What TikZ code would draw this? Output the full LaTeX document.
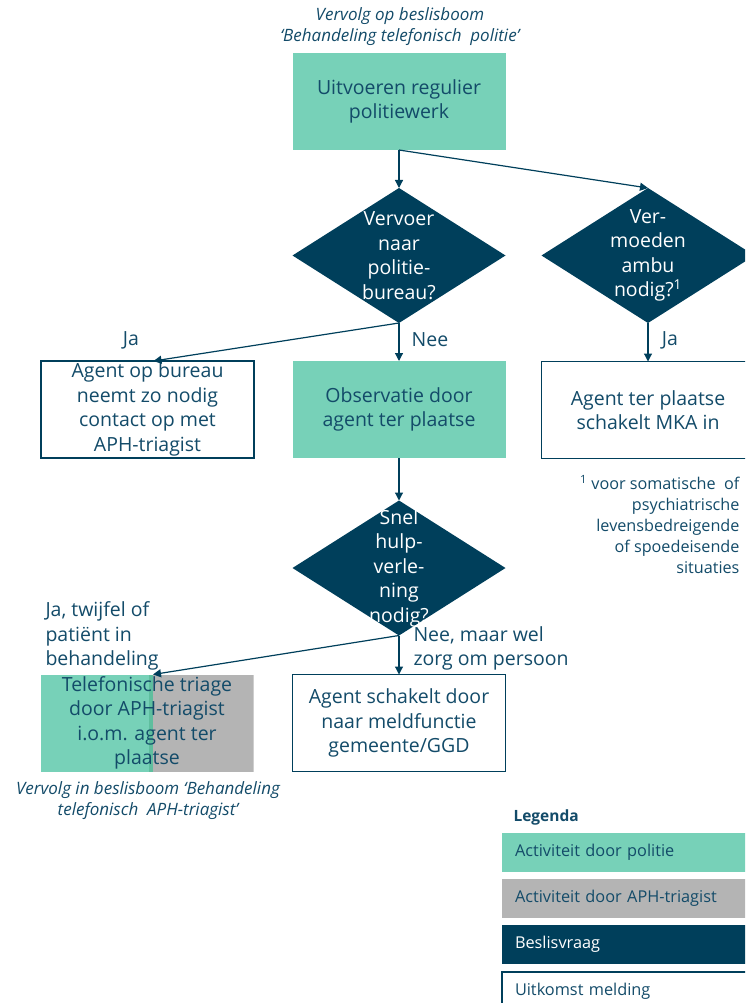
\documentclass[tikz,border=0pt]{standalone}
\usepackage{fontspec}
\setmainfont{Open Sans}
\usetikzlibrary{shapes.geometric,arrows.meta,calc}
\definecolor{tealA}{HTML}{77D1B8}
\definecolor{tealB}{HTML}{5FBE9E}
\definecolor{navy}{HTML}{003F5B}
\definecolor{txt}{HTML}{134B69}
\definecolor{greyA}{HTML}{B4B4B4}
\newcommand{\mainfs}{\fontsize{19.5}{24.5}\selectfont}
\newcommand{\smallfs}{\fontsize{16.2}{21}\selectfont}
\newcommand{\italfs}{\fontsize{17}{21}\selectfont}
\begin{document}
\begin{tikzpicture}[x=1pt,y=-1pt,
  box/.style={rectangle, minimum width=213pt, minimum height=97pt, inner sep=0pt, outer sep=0pt, align=center, text=txt, font=\mainfs},
  police/.style={box, fill=tealA},
  outcome/.style={box, draw=navy, line width=1.2pt, fill=white},
  dia/.style={diamond, fill=navy, minimum width=213pt, minimum height=135pt, inner sep=0pt, outer sep=0pt},
  dtext/.style={text=white, align=center, font=\mainfs},
  conn/.style={draw=navy, line width=1.2pt, -{Triangle[length=8pt,width=8pt]}},
  lbl/.style={text=txt, font=\mainfs},
  legbox/.style={rectangle, anchor=north west, minimum height=39pt, text width=240pt, inner xsep=13pt, inner ysep=0pt, outer sep=0pt, align=left, font=\fontsize{16.3}{18}\selectfont, text=txt}
]
\useasboundingbox (0,0) rectangle (745,1003);
\clip (0,0) rectangle (745,1003);

\node[font=\itshape\italfs, text=txt, align=center] (top) at (400,27) {Vervolg op beslisboom\\‘Behandeling telefonisch\ \ politie’};

\node[police] (b1) at (399,101.5) {Uitvoeren regulier\\politiewerk};
\node[dia] (d1) at (399,255.5) {};
\node[dtext] (d1t) at (d1.center) {Vervoer\\naar\\politie-\\bureau?};
\node[dia] (d2) at (648,255.5) {};
\node[dtext] (d2t) at (d2.center) {Ver-\\moeden\\ambu\\nodig?\textsuperscript{1}};

\node[outcome] (b2) at (147.5,409.5) {Agent op bureau\\neemt zo nodig\\contact op met\\APH-triagist};
\node[police] (b3) at (399,409.5) {Observatie door\\agent ter plaatse};
\node[outcome] (b4) at (648,410) {Agent ter plaatse\\schakelt MKA in};

\node[anchor=east, align=right, font=\smallfs, text=txt] (fn) at (743,524.5) {\textsuperscript{1} voor somatische\ \ of\\psychiatrische\\levensbedreigende\\of spoedeisende\\situaties};

\node[dia] (d3) at (399,568) {};
\node[dtext] (d3t) at (d3.center) {Snel\\hulp-\\verle-\\ning\\nodig?};

\node[box, path picture={
  \fill[greyA] (path picture bounding box.south west) rectangle (path picture bounding box.north east);
  \fill[tealA] (path picture bounding box.south west) rectangle ([xshift=108pt]path picture bounding box.north west);
  \fill[tealB] ([xshift=108pt]path picture bounding box.south west) rectangle ([xshift=112pt]path picture bounding box.north west);
}] (b5) at (147,723) {Telefonische triage\\door APH-triagist\\i.o.m. agent ter\\plaatse};
\node[outcome] (b6) at (399,723) {Agent schakelt door\\naar meldfunctie\\gemeente/GGD};

\node[font=\itshape\italfs, text=txt, align=center] (bot) at (148,801) {Vervolg in beslisboom ‘Behandeling\\telefonisch\ \ APH-triagist’};

\draw[conn] (b1.south) -- (d1.north);
\draw[conn] (b1.south) -- (d2.north);
\draw[conn] (d1.south) -- ([xshift=6pt]b2.north);
\draw[conn] (d1.south) -- (b3.north);
\draw[conn] (d2.south) -- (b4.north);
\draw[conn] (b3.south) -- (d3.north);
\draw[conn] (d3.south) -- ([xshift=6pt]b5.north);
\draw[conn] (d3.south) -- (b6.north);

\node[lbl] (lja1) at (131,340) {Ja};
\node[lbl] (lnee1) at (430,340) {Nee};
\node[lbl] (lja2) at (670,340) {Ja};
\node[lbl, align=left, anchor=west] (lja3) at (42,636) {Ja, twijfel of\\patiënt in\\behandeling};
\node[lbl, align=left, anchor=west] (lnee2) at (410,648.5) {Nee, maar wel\\zorg om persoon};

\node[font=\bfseries\fontsize{15.5}{17}\selectfont, text=txt, anchor=west] (leg) at (510,817) {Legenda};
\node[legbox, fill=tealA] (l1) at (502,833) {Activiteit door politie};
\node[legbox, fill=greyA] (l2) at (502,879) {Activiteit door APH-triagist};
\node[legbox, fill=navy, text=white] (l3) at (502,925) {Beslisvraag};
\node[legbox, fill=white, draw=navy, line width=1.2pt] (l4) at (502,972) {Uitkomst melding};
\end{tikzpicture}
\end{document}
